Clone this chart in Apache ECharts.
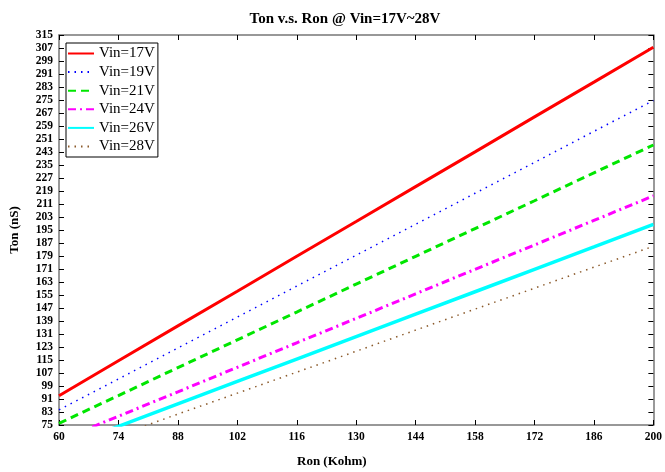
<!DOCTYPE html>
<html>
<head>
<meta charset="utf-8">
<script src="https://cdn.jsdelivr.net/npm/echarts@6/dist/echarts.min.js"></script>
<style>
html,body{margin:0;padding:0;background:#fff;}
#chart{width:665px;height:472px;}
</style>
</head>
<body>
<div id="chart"></div>
<script>
var ron = [60, 74, 88, 102, 116, 130, 144, 158, 172, 186, 200];
var vin17 = [93.0, 114.5, 136.0, 157.3, 178.8, 200.2, 221.7, 243.1, 264.6, 286.0, 307.5];
var vin19 = [84.3, 103.3, 122.4, 141.4, 160.5, 179.5, 198.5, 217.6, 236.6, 255.7, 274.7];
var vin21 = [76.0, 93.1, 110.3, 127.4, 144.5, 161.7, 178.8, 195.9, 213.0, 230.2, 247.3];
var vin24 = [65.3, 80.4, 95.4, 110.5, 125.6, 140.6, 155.7, 170.8, 185.8, 200.9, 216.0];
var vin26 = [60.4, 74.2, 88.0, 101.8, 115.6, 129.4, 143.2, 157.0, 170.8, 184.6, 198.5];
var vin28 = [55.8, 68.7, 81.7, 94.6, 107.5, 120.4, 133.4, 146.3, 159.2, 172.1, 185.0];
var seriesNames = ['Vin=17V', 'Vin=19V', 'Vin=21V', 'Vin=24V', 'Vin=26V', 'Vin=28V'];

function pairs(ys) { return ron.map(function (x, i) { return [x, ys[i]]; }); }

var serif = '"Liberation Serif", "DejaVu Serif", serif';
var chart = echarts.init(document.getElementById('chart'));

var styles = [
  { color: '#ff0000', width: 3, type: 'solid' },
  { color: '#0000ff', width: 1.5, type: [1.5, 5] },
  { color: '#00e600', width: 3, type: [8, 5] },
  { color: '#ff00ff', width: 3, type: [8, 4, 2, 4] },
  { color: '#00ffff', width: 3.5, type: 'solid' },
  { color: '#8b5a2b', width: 1.5, type: [1.5, 5] }
];
var data = [vin17, vin19, vin21, vin24, vin26, vin28];

var axisCommonX = {
  type: 'value', min: 60, max: 200, interval: 14,
  axisLine: { show: true, onZero: false, lineStyle: { color: '#777', width: 1.5 } },
  axisTick: { show: true, inside: true, length: 5, lineStyle: { color: '#000' } },
  splitLine: { show: false }
};
var axisCommonY = {
  type: 'value', min: 75, max: 315, interval: 8,
  axisLine: { show: true, onZero: false, lineStyle: { color: '#777', width: 1.5 } },
  axisTick: { show: true, inside: true, length: 5, lineStyle: { color: '#000' } },
  splitLine: { show: false }
};

chart.setOption({
  animation: false,
  backgroundColor: '#fff',
  title: {
    text: 'Ton v.s. Ron @ Vin=17V~28V',
    left: 340, top: 7, textAlign: 'center',
    textStyle: { fontFamily: serif, fontWeight: 'bold', fontSize: 15, color: '#000' }
  },
  grid: { left: 59, right: 7, top: 35, bottom: 47, containLabel: false },
  legend: {
    orient: 'vertical', left: 66, top: 43,
    data: seriesNames,
    backgroundColor: '#fff', borderColor: '#000', borderWidth: 1,
    padding: [3, 3, 3, 1], itemWidth: 26, itemHeight: 14, itemGap: 3.6,
    itemStyle: { opacity: 0 },
    textStyle: { fontFamily: serif, fontSize: 15, color: '#000' }
  },
  xAxis: [
    Object.assign({}, axisCommonX, {
      position: 'bottom',
      axisLabel: { show: true, margin: 6, fontFamily: serif, fontWeight: 'bold', fontSize: 11.5, color: '#000' }
    }),
    Object.assign({}, axisCommonX, { position: 'top', axisLabel: { show: false } })
  ],
  yAxis: [
    Object.assign({}, axisCommonY, {
      position: 'left',
      axisLabel: { show: true, margin: 6, fontFamily: serif, fontWeight: 'bold', fontSize: 11.5, color: '#000' }
    }),
    Object.assign({}, axisCommonY, { position: 'right', axisLabel: { show: false } })
  ],
  graphic: [
    { type: 'text', left: 297, top: 455,
      style: { text: 'Ron (Kohm)', font: 'bold 13px ' + serif, fill: '#000' } },
    { type: 'text', x: 8, y: 230, rotation: Math.PI / 2, originX: 0, originY: 0,
      style: { text: 'Ton (nS)', font: 'bold 13px ' + serif, fill: '#000', align: 'center', verticalAlign: 'top' } }
  ],
  series: seriesNames.map(function (n, i) {
    return {
      name: n, type: 'line', data: pairs(data[i]),
      xAxisIndex: 0, yAxisIndex: 0,
      symbol: 'none', clip: true, silent: true,
      itemStyle: { color: styles[i].color },
      lineStyle: { color: styles[i].color, width: styles[i].width, type: styles[i].type }
    };
  })
});
</script>
</body>
</html>
